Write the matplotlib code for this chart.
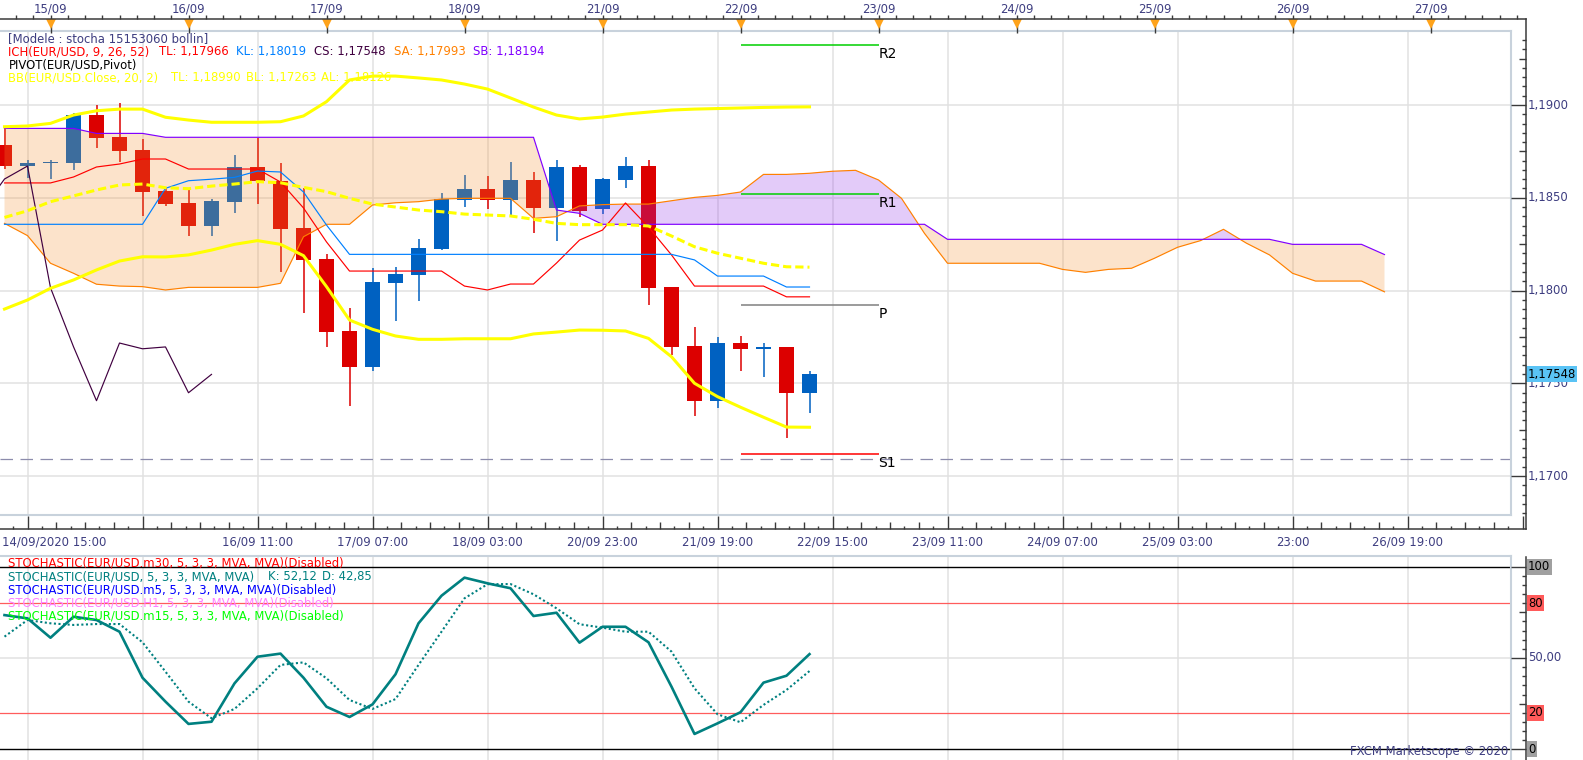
import numpy as np
import matplotlib
matplotlib.use("Agg")
import matplotlib.pyplot as plt

plt.rcParams['font.family'] = ['DejaVu Sans']

##### DATA #####
# EUR/USD 4h bars, bar 0 = 14/09/2020 15:00 (no bars over the weekend)
opens = [1.18784, 1.18671, 1.18685, 1.18689, 1.18946, 1.18828, 1.18757, 1.18536, 1.18472, 1.18348,
         1.18477, 1.18666, 1.18590, 1.18337, 1.18170, 1.17782, 1.17589, 1.18042, 1.18084, 1.18224,
         1.18490, 1.18547, 1.18490, 1.18596, 1.18446, 1.18666, 1.18441, 1.18596, 1.18671, 1.18019,
         1.17701, 1.17406, 1.17717, 1.17686, 1.17696, 1.17449]
highs = [1.18876, 1.18704, 1.18704, 1.18957, 1.19000, 1.19009, 1.18817, 1.18553, 1.18542, 1.18493,
         1.18731, 1.18824, 1.18687, 1.18553, 1.18197, 1.17906, 1.18121, 1.18127, 1.18278, 1.18526,
         1.18623, 1.18617, 1.18693, 1.18639, 1.18704, 1.18677, 1.18607, 1.18720, 1.18704, 1.18019,
         1.17803, 1.17750, 1.17755, 1.17717, 1.17696, 1.17566]
lows = [1.18655, 1.18607, 1.18601, 1.18650, 1.18770, 1.18694, 1.18402, 1.18456, 1.18294, 1.18294,
        1.18419, 1.18468, 1.18101, 1.17880, 1.17697, 1.17379, 1.17568, 1.17837, 1.17945, 1.18218,
        1.18452, 1.18441, 1.18407, 1.18312, 1.18269, 1.18398, 1.18414, 1.18554, 1.17924, 1.17653,
        1.17325, 1.17368, 1.17568, 1.17536, 1.17207, 1.17341]
closes = [1.18671, 1.18687, 1.18694, 1.18946, 1.18824, 1.18752, 1.18533, 1.18468, 1.18348, 1.18483,
          1.18666, 1.18590, 1.18333, 1.18166, 1.17778, 1.17589, 1.18046, 1.18089, 1.18229, 1.18493,
          1.18547, 1.18490, 1.18596, 1.18446, 1.18666, 1.18430, 1.18601, 1.18671, 1.18015, 1.17697,
          1.17406, 1.17717, 1.17686, 1.17696, 1.17449, 1.17548]

# Ichimoku
tenkan = [1.18580, 1.18580, 1.18580, 1.18612, 1.18666, 1.18682, 1.18709, 1.18709, 1.18655, 1.18655,
          1.18655, 1.18655, 1.18585, 1.18445, 1.18262, 1.18105, 1.18105, 1.18105, 1.18105, 1.18105,
          1.18024, 1.18003, 1.18035, 1.18035, 1.18148, 1.18272, 1.18326, 1.18472, 1.18342, 1.18192,
          1.18024, 1.18024, 1.18024, 1.18024, 1.17966, 1.17966]
kijun = [1.18357, 1.18357, 1.18357, 1.18357, 1.18357, 1.18357, 1.18357, 1.18551, 1.18592, 1.18600,
         1.18610, 1.18644, 1.18639, 1.18531, 1.18353, 1.18195, 1.18195, 1.18195, 1.18195, 1.18195,
         1.18195, 1.18195, 1.18195, 1.18195, 1.18195, 1.18195, 1.18195, 1.18195, 1.18195, 1.18195,
         1.18165, 1.18078, 1.18078, 1.18078, 1.18019, 1.18019]
senkou_a = [1.18362, 1.18296, 1.18147, 1.18093, 1.18034, 1.18024, 1.18021, 1.18003, 1.18017, 1.18017,
            1.18017, 1.18017, 1.18039, 1.18290, 1.18357, 1.18357, 1.18461, 1.18473, 1.18479, 1.18493,
            1.18497, 1.18497, 1.18497, 1.18389, 1.18398, 1.18456, 1.18463, 1.18466, 1.18466, 1.18484,
            1.18502, 1.18513, 1.18531, 1.18626, 1.18626, 1.18632, 1.18643, 1.18648, 1.18596, 1.18497,
            1.18308, 1.18147, 1.18147, 1.18147, 1.18147, 1.18147, 1.18114, 1.18098, 1.18114, 1.18120,
            1.18174, 1.18233, 1.18269, 1.18330, 1.18255, 1.18192, 1.18093, 1.18051, 1.18051, 1.18051,
            1.17993]
senkou_b = [1.18874, 1.18874, 1.18874, 1.18874, 1.18847, 1.18847, 1.18847, 1.18826, 1.18826, 1.18826,
            1.18826, 1.18826, 1.18826, 1.18826, 1.18826, 1.18826, 1.18826, 1.18826, 1.18826, 1.18826,
            1.18826, 1.18826, 1.18826, 1.18826, 1.18434, 1.18416, 1.18357, 1.18357, 1.18357, 1.18357,
            1.18357, 1.18357, 1.18357, 1.18357, 1.18357, 1.18357, 1.18357, 1.18357, 1.18357, 1.18357,
            1.18357, 1.18276, 1.18276, 1.18276, 1.18276, 1.18276, 1.18276, 1.18276, 1.18276, 1.18276,
            1.18276, 1.18276, 1.18276, 1.18276, 1.18276, 1.18276, 1.18249, 1.18249, 1.18249, 1.18249,
            1.18194]

# Bollinger (20, 2)
bb_up = [1.18883, 1.18887, 1.18901, 1.18946, 1.18969, 1.18978, 1.18978, 1.18934, 1.18919, 1.18907,
         1.18907, 1.18907, 1.18910, 1.18941, 1.19018, 1.19135, 1.19156, 1.19156, 1.19146, 1.19135,
         1.19113, 1.19086, 1.19038, 1.18989, 1.18946, 1.18925, 1.18935, 1.18951, 1.18962, 1.18973,
         1.18978, 1.18981, 1.18984, 1.18987, 1.18989, 1.18990]
bb_mid = [1.18394, 1.18430, 1.18479, 1.18510, 1.18542, 1.18569, 1.18574, 1.18554, 1.18549, 1.18563,
          1.18574, 1.18587, 1.18581, 1.18556, 1.18533, 1.18497, 1.18466, 1.18450, 1.18434, 1.18425,
          1.18412, 1.18407, 1.18402, 1.18384, 1.18362, 1.18355, 1.18355, 1.18355, 1.18348, 1.18294,
          1.18236, 1.18201, 1.18174, 1.18147, 1.18128, 1.18126]
bb_low = [1.17900, 1.17949, 1.18012, 1.18057, 1.18111, 1.18159, 1.18182, 1.18181, 1.18192, 1.18218,
          1.18249, 1.18269, 1.18249, 1.18188, 1.18021, 1.17841, 1.17791, 1.17755, 1.17737, 1.17737,
          1.17740, 1.17740, 1.17740, 1.17766, 1.17776, 1.17787, 1.17786, 1.17782, 1.17742, 1.17643,
          1.17500, 1.17428, 1.17371, 1.17317, 1.17264, 1.17263]

# pivots of 22/09
pivot_names = ['R2', 'R1', 'P', 'S1']
pivot_values = [1.19323, 1.18519, 1.17920, 1.17119]
pivot_colors = ['#00d000', '#00d000', '#808080', '#ff0000']
hline_level = 1.17090

# stochastic (5, 3, 3)
stoch_k = [73.5, 71.7, 61.1, 72.6, 70.8, 64.4, 39.2, 26.1, 13.9, 15.1,
           36.1, 50.7, 52.4, 39.2, 23.3, 17.7, 24.6, 41.1, 69.0, 84.1,
           94.0, 90.9, 88.2, 73.0, 74.8, 58.4, 67.1, 67.1, 58.6, 34.3,
           8.4, 14.2, 20.3, 36.5, 40.3, 52.12]
stoch_d = [61.7, 70.8, 69.0, 68.1, 68.6, 68.6, 58.6, 42.5, 26.1, 17.0,
           22.1, 33.4, 46.2, 47.6, 38.9, 27.0, 22.1, 27.5, 46.2, 64.4,
           82.7, 90.4, 90.5, 84.9, 77.2, 68.5, 66.6, 64.4, 64.4, 53.5,
           33.4, 19.2, 14.8, 24.3, 32.5, 42.85]

day_labels = ['15/09', '16/09', '17/09', '18/09', '21/09', '22/09', '23/09',
              '24/09', '25/09', '26/09', '27/09']
time_labels = ['', '', '16/09 11:00', '17/09 07:00', '18/09 03:00', '20/09 23:00',
               '21/09 19:00', '22/09 15:00', '23/09 11:00', '24/09 07:00',
               '25/09 03:00', '23:00', '26/09 19:00']
first_label = '14/09/2020 15:00'

##### FIGURE #####
W, H = 1583, 760
TXT = '#3d3d80'
DARK = '#3a3a3a'
GRID = '#e1e1e1'
BORDER = '#c8d2dc'
FS = 8.4
LEG = 8.4
BOX_R = 1510.7
AX_R = 1525.7
X0 = -4.5 / 23
X1 = (BOX_R - 4.5) / 23
XR = (AX_R - 4.5) / 23

fig = plt.figure(figsize=(W / 100, H / 100), dpi=100)


def px_axes(x0, y0, x1, y1, **kw):
    a = fig.add_axes([x0 / W, 1 - y1 / H, (x1 - x0) / W, (y1 - y0) / H], **kw)
    return a


ax = px_axes(0, 31, BOX_R, 515)
ax_s = px_axes(0, 556, BOX_R, 760, sharex=ax)
ax_t = px_axes(0, 0, BOX_R, 31, sharex=ax)
ax_b = px_axes(0, 515, BOX_R, 556, sharex=ax)
ax_r = px_axes(BOX_R, 31, W, 515, sharey=ax)
ax_sr = px_axes(BOX_R, 556, W, 760, sharey=ax_s)
ov = px_axes(0, 0, W, H)

ax.set_xlim(X0, X1)
ax.set_ylim(1.16790, 1.19399)
ax.set_xticks([])
ax.set_yticks([])
for name, s in ax.spines.items():
    s.set_color(BORDER)
    s.set_linewidth(1.5)
ax.spines['left'].set_visible(False)

grid_x = np.arange(1, 62, 5)
ax.vlines(grid_x, 0, 1, transform=ax.get_xaxis_transform(), color=GRID, lw=1.1, zorder=0)
ax.hlines([1.170, 1.175, 1.180, 1.185, 1.190], 0, 1, transform=ax.get_yaxis_transform(),
          color=GRID, lw=1.1, zorder=0)

# candles
o, h, l, c = map(np.array, (opens, highs, lows, closes))
bars = np.arange(len(c))
col = np.where(c >= o, '#0061c1', '#dc0000')
ax.vlines(bars, l, h, colors=col, lw=1.1, zorder=2)
ax.bar(bars, np.maximum(np.abs(c - o), 0.00004), 0.61, bottom=np.minimum(o, c),
       color=col, lw=0, zorder=2)

# ichimoku cloud (drawn over the candles, like the platform does)
sa = np.array(senkou_a)
sb = np.array(senkou_b)
xs = np.arange(len(sa))
ax.fill_between(xs, sa, sb, where=sb >= sa, interpolate=True, color=(0.969, 0.576, 0.2),
                alpha=0.25, lw=0, zorder=3)
ax.fill_between(xs, sa, sb, where=sa > sb, interpolate=True, color=(0.576, 0.2, 0.922),
                alpha=0.25, lw=0, zorder=3)
ax.plot(xs, sa, color='#ff8000', lw=0.85, zorder=4)
ax.plot(xs, sb, color='#8000ff', lw=0.85, zorder=4)
ax.plot(bars, tenkan, color='#ff0000', lw=0.85, zorder=4)
ax.plot(bars, kijun, color='#0080ff', lw=0.85, zorder=4)
ax.plot(bars[25:] - 26, c[25:], color='#400040', lw=0.85, zorder=4)

# bollinger
ax.plot(bars, bb_up, color='#ffff00', lw=2.2, zorder=4.5)
ax.plot(bars, bb_low, color='#ffff00', lw=2.2, zorder=4.5)
ax.plot(bars, bb_mid, color='#ffff00', lw=2.2, dashes=(2.7, 1.3), zorder=4.5)

# pivots
for name, v, pc in zip(pivot_names, pivot_values, pivot_colors):
    ax.hlines(v, 32, 38, color=pc, lw=1.1, zorder=4)
    ax.annotate(name, (38, v), xytext=(0, -1.3), textcoords='offset points',
                ha='left', va='top', fontsize=10, color='black', zorder=6, annotation_clip=False)
ax.axhline(hline_level, color='#8c8cac', lw=0.9, dashes=(10, 6), zorder=1)

# stochastic panel
ax_s.set_ylim(-5.86, 105.86)
ax_s.set_yticks([])
for name, s in ax_s.spines.items():
    s.set_color(BORDER)
    s.set_linewidth(1.5)
ax_s.spines['left'].set_visible(False)
ax_s.spines['bottom'].set_visible(False)
ax_s.vlines(grid_x, 0, 1, transform=ax_s.get_xaxis_transform(), color=GRID, lw=1.1, zorder=0)
ax_s.axhline(50, color=GRID, lw=1.1, zorder=0)
ax_s.axhline(100, color='black', lw=1.0, zorder=1)
ax_s.axhline(0, color='black', lw=1.0, zorder=1)
ax_s.axhline(80, color='#ff5c5c', lw=0.9, zorder=1)
ax_s.axhline(20, color='#ff5c5c', lw=0.9, zorder=1)
ax_s.plot(bars, stoch_k, color='#008080', lw=1.9, zorder=3)
ax_s.plot(bars, stoch_d, color='#008080', lw=1.5, dashes=(1, 1.2), zorder=3)

# top ruler (y in pixels)
ax_t.set_ylim(31, 0)
ax_t.axis('off')
day_x = np.arange(2, 63, 6)
ax_t.vlines(np.arange(0.5, XR, 0.75), 15, 19, color=DARK, lw=1, clip_on=False)
ax_t.vlines(day_x, 19, 33, color=DARK, lw=1, clip_on=False)
ax_t.plot(day_x, np.full(len(day_x), 24.0), 'v', color='#ffa31a', ms=7.5, mew=0, clip_on=False)
for x, s in zip(day_x, day_labels):
    ax_t.text(x, 9, s, ha='center', va='center', fontsize=FS, color=TXT)

# bottom time axis (y in pixels)
ax_b.set_ylim(556, 515)
ax_b.axis('off')
k = np.arange(-1, 105)
pos = 1 + 0.625 * k
ax_b.vlines(pos[k % 8 == 0], 516, 529, color=DARK, lw=1, clip_on=False)
ax_b.vlines(pos[(k % 2 == 0) & (k % 8 != 0)], 522.3, 529, color=DARK, lw=1, clip_on=False)
ax_b.vlines(pos[k % 2 == 1], 525.7, 529, color=DARK, lw=1, clip_on=False)
for x, s in zip(grid_x, time_labels):
    if s:
        ax_b.text(x, 542.3, s, ha='center', va='center', fontsize=FS, color=TXT)
ax_b.text(X0 + 0.07, 542.3, first_label, ha='left', va='center', fontsize=FS, color=TXT)

# right price axis
ax_r.set_xlim(BOX_R, W)
ax_r.axis('off')
kk = np.arange(2336, 2388)
vals = kk * 0.0005
xmin = np.where(kk % 10 == 0, BOX_R + 0.3, np.where(kk % 5 == 0, AX_R - 7, AX_R - 4))
ax_r.hlines(vals, xmin, AX_R, color=DARK, lw=1)
for v in vals[kk % 10 == 0]:
    ax_r.text(1528, v, f'{v:.4f}'.replace('.', ','), ha='left', va='center', fontsize=FS, color=TXT)
ax_r.text(1527.6, c[-1], f'{c[-1]:.5f}'.replace('.', ','), ha='left', va='center', fontsize=FS,
          color='black', zorder=5,
          bbox=dict(boxstyle='square,pad=0.12', fc='#5ac3f5', ec='none'))

# right stochastic axis
ax_sr.set_xlim(BOX_R, W)
ax_sr.axis('off')
sv = np.arange(0, 101, 5)
sxmin = np.where(sv % 50 == 0, BOX_R + 0.3, np.where(sv % 25 == 0, AX_R - 7, AX_R - 4))
ax_sr.hlines(sv, sxmin, AX_R, color=DARK, lw=1)
for v, s, bg in [(100, '100', '#a0a0a0'), (80, '80', '#ff5a5a'), (50, '50,00', None),
                 (20, '20', '#ff5a5a'), (0, '0', '#a0a0a0')]:
    box = dict(boxstyle='square,pad=0.12', fc=bg, ec='none') if bg else None
    ax_sr.text(1528, v, s, ha='left', va='center', fontsize=FS,
               color='black' if bg else TXT, bbox=box)

# frame lines and texts in pixel coordinates
ov.set_xlim(0, W)
ov.set_ylim(H, 0)
ov.axis('off')
for a in (ax_t, ax_b, ax_r, ax_sr, ov):
    a.patch.set_visible(False)
ov.plot([0, AX_R], [19, 19], color=DARK, lw=1.1)
ov.plot([0, AX_R], [529, 529], color=DARK, lw=1.1)
ov.plot([AX_R, AX_R], [19, 529], color=DARK, lw=1.1)
ov.plot([AX_R, AX_R], [556.5, 760], color=DARK, lw=1.1)

ov.text(8.4, 38.8, '[Modele : stocha 15153060 bollin]', fontsize=LEG, color=TXT, va='center')
for x, s, tc in [(8.4, 'ICH(EUR/USD, 9, 26, 52)', '#ff0000'), (159, 'TL: 1,17966', '#ff0000'),
                 (236.5, 'KL: 1,18019', '#0080ff'), (314, 'CS: 1,17548', '#400040'),
                 (394, 'SA: 1,17993', '#ff8000'), (472.6, 'SB: 1,18194', '#8000ff')]:
    ov.text(x, 52.0, s, fontsize=LEG, color=tc, va='center')
ov.text(8.4, 65.0, 'PIVOT(EUR/USD,Pivot)', fontsize=LEG, color='black', va='center')
for x, s in [(8.4, 'BB(EUR/USD.Close, 20, 2)'), (171, 'TL: 1,18990'), (246, 'BL: 1,17263'),
             (321.5, 'AL: 1,18126')]:
    ov.text(x, 78.0, s, fontsize=LEG, color='#ffff00', va='center')

ov.text(8.3, 563.3, 'STOCHASTIC(EUR/USD.m30, 5, 3, 3, MVA, MVA)(Disabled)', fontsize=LEG,
        color='#ff0000', va='center')
ov.text(8.3, 576.7, 'STOCHASTIC(EUR/USD, 5, 3, 3, MVA, MVA)', fontsize=LEG, color='#008080', va='center')
ov.text(268.3, 576.7, 'K: 52,12', fontsize=LEG, color='#008080', va='center')
ov.text(321.7, 576.7, 'D: 42,85', fontsize=LEG, color='#008080', va='center')
ov.text(8.3, 589.7, 'STOCHASTIC(EUR/USD.m5, 5, 3, 3, MVA, MVA)(Disabled)', fontsize=LEG,
        color='#0000ff', va='center')
ov.text(8.3, 603.3, 'STOCHASTIC(EUR/USD.H1, 5, 3, 3, MVA, MVA)(Disabled)', fontsize=LEG,
        color='#ff80ff', va='center')
ov.text(8.3, 616.0, 'STOCHASTIC(EUR/USD.m15, 5, 3, 3, MVA, MVA)(Disabled)', fontsize=LEG,
        color='#00ff00', va='center')
ov.text(1508, 751.7, 'FXCM Marketscope © 2020', fontsize=LEG, color=TXT, ha='right', va='center')

fig.savefig('out.png', dpi=100, facecolor='white')
